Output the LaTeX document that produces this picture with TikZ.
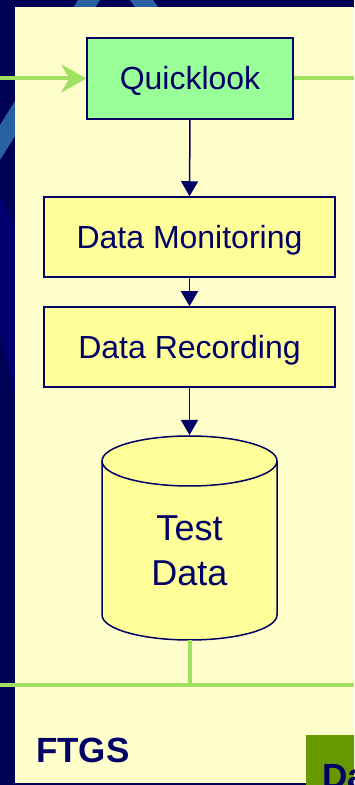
\documentclass[tikz,border=0pt]{standalone}
\usepackage{fontspec}
\setmainfont{Liberation Sans}
\usetikzlibrary{arrows.meta}
\definecolor{navybg}{RGB}{0,0,84}
\definecolor{navylite}{RGB}{0,0,110}
\definecolor{stripe}{RGB}{40,98,160}
\definecolor{panel}{RGB}{255,255,204}
\definecolor{ink}{RGB}{0,0,102}
\definecolor{qlgreen}{RGB}{153,255,153}
\definecolor{boxyellow}{RGB}{255,255,153}
\definecolor{linegreen}{RGB}{160,224,96}
\definecolor{olive}{RGB}{102,153,0}
\tikzset{
  x=1pt, y=1pt,
  procbox/.style={draw=ink, line width=1.5pt, minimum height=80pt, inner sep=0pt,
    text height=28.5pt, text depth=5.5pt,
    font=\fontsize{32}{38}\selectfont, text=ink},
  navyarrow/.style={draw=ink, line width=1.5pt, -{Triangle[width=17pt,length=15pt]}},
  greenline/.style={draw=linegreen, line width=4pt},
  greenarrow/.style={greenline, -{Stealth[width=28pt,length=25pt,inset=8pt]}},
}
\begin{document}
\begin{tikzpicture}
\useasboundingbox (0,0) rectangle (354,785);
\clip (0,0) rectangle (354,785);
% background
\fill[navybg] (0,0) rectangle (354,785);
\fill[navylite] (0,590) -- (15,560) -- (15,392) -- (0,450) -- cycle;
\fill[stripe] (78,785) -- (100,785) -- (0,625) -- (0,660) -- cycle;
\fill[stripe] (130,785) -- (153,785) -- (158,778) -- (135,778) -- cycle;
% panel
\fill[panel] (15,2) rectangle (360,778);
% olive box
\fill[olive] (306,-5) rectangle (360,50);
\node[anchor=base west, text=ink, font=\fontsize{35}{40}\selectfont\bfseries, inner sep=0pt] (da) at (322,-3) {Da};
% nodes
\node[procbox, fill=qlgreen, minimum width=206pt, minimum height=81pt] (ql) at (190,706.5) {Quicklook};
\node[procbox, fill=boxyellow, minimum width=291pt] (dm) at (189.5,548) {Data Monitoring};
\node[procbox, fill=boxyellow, minimum width=291pt] (dr) at (189.5,438) {Data Recording};
% cylinder
\fill[boxyellow, draw=ink, line width=1.5pt]
  (102,324) -- (102,170) arc[start angle=180, end angle=360, x radius=87.5pt, y radius=25pt]
  -- (277,324) arc[start angle=0, end angle=180, x radius=87.5pt, y radius=25pt] -- cycle;
\draw[ink, line width=1.5pt] (102,324) arc[start angle=180, end angle=360, x radius=87.5pt, y radius=25pt];
\coordinate (tdtop) at (189.5,350);
\coordinate (tdbot) at (189.5,145);
\node[text=ink, align=center, font=\fontsize{36}{45}\selectfont, inner sep=0pt] (td) at (189.5,234) {Test\\Data};
% connectors
\draw[navyarrow] (ql.south) -- (dm.north);
\draw[navyarrow] (dm.south) -- (dr.north);
\draw[navyarrow] (dr.south) -- (tdtop);
\coordinate (inL) at (0,706.5);
\coordinate (outR) at (354,706.5);
\coordinate (busL) at (0,100);
\coordinate (busR) at (354,100);
\coordinate (busM) at (189.5,100);
\draw[greenarrow] (inL) -- (ql.west);
\draw[greenline] (ql.east) -- (outR);
\draw[greenline] (tdbot) -- (busM);
\draw[greenline] (busL) -- (busR);
% label
\node[anchor=base west, text=ink, font=\fontsize{35}{40}\selectfont\bfseries, inner sep=0pt] (ftgs) at (36,22) {FTGS};
\end{tikzpicture}
\end{document}
